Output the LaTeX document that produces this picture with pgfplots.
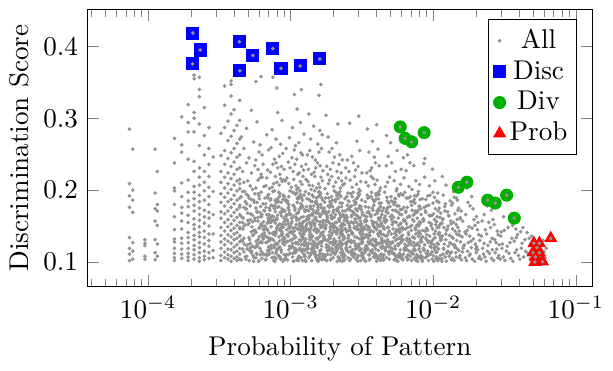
\documentclass[border=0pt]{standalone}
\usepackage{pgfplots}
\usepackage{pgfplotstable}
\pgfplotsset{compat=1.18}
\definecolor{divgreen}{RGB}{0,176,0}
\begin{document}
% u = probability x 1e5, y = discrimination score
\pgfplotstableread{
u y
7.4 .285
7.8 .257
7.4 .209
7.8 .200
7.4 .192
7.8 .186
7.4 .176
7.8 .169
7.4 .134
7.8 .127
7.4 .119
7.8 .115
7.4 .111
7.8 .104
7.4 .102
9.5 .131
9.5 .126
9.5 .123
9.5 .108
9.5 .104
11.2 .257
11.6 .226
11.2 .196
11.6 .180
11.2 .174
11.6 .171
11.2 .157
11.6 .151
11.2 .131
11.6 .125
11.2 .113
11.6 .108
11.2 .103
15.3 .272
15.3 .238
15.3 .203
15.3 .199
15.3 .180
15.3 .163
15.3 .145
15.3 .132
15.3 .128
15.3 .119
15.3 .112
15.3 .106
15.3 .102
17.2 .302
17.2 .263
17.2 .253
17.2 .210
17.2 .191
17.2 .176
17.2 .168
17.2 .157
17.2 .146
17.2 .133
17.2 .126
17.2 .118
17.2 .111
17.2 .105
19.1 .319
19.1 .294
19.1 .281
19.1 .243
19.1 .214
19.1 .197
19.1 .185
19.1 .177
19.1 .165
19.1 .155
19.1 .141
19.1 .134
19.1 .127
19.1 .119
19.1 .112
19.1 .107
19.1 .102
21.0 .360
21.0 .355
21.0 .308
21.0 .300
21.0 .281
21.0 .240
21.0 .226
21.0 .205
21.0 .197
21.0 .188
21.0 .179
21.0 .171
21.0 .160
21.0 .152
21.0 .146
21.0 .137
21.0 .131
21.0 .123
21.0 .117
21.0 .110
21.0 .104
22.9 .357
22.9 .340
22.9 .330
22.9 .292
22.9 .262
22.9 .231
22.9 .218
22.9 .207
22.9 .193
22.9 .184
22.9 .175
22.9 .166
22.9 .158
22.9 .149
22.9 .141
22.9 .135
22.9 .127
22.9 .120
22.9 .113
22.9 .106
22.9 .101
24.8 .315
24.8 .276
24.8 .249
24.8 .226
24.8 .211
24.8 .199
24.8 .186
24.8 .172
24.8 .163
24.8 .154
24.8 .143
24.8 .134
24.8 .125
24.8 .115
24.8 .108
24.8 .103
26.7 .287
26.7 .258
26.7 .236
26.7 .219
26.7 .204
26.7 .191
26.7 .180
26.7 .169
26.7 .161
26.7 .150
26.7 .139
26.7 .130
26.7 .122
26.7 .113
26.7 .105
28.6 .246
28.6 .198
28.6 .166
28.6 .139
28.6 .116
28.6 .106
32.4 .279
32.4 .248
32.4 .226
32.4 .211
32.4 .195
32.4 .183
32.4 .170
32.4 .161
32.4 .148
32.4 .137
32.4 .128
32.4 .119
32.4 .109
32.4 .102
34.4 .345
34.4 .318
34.4 .287
34.4 .255
34.4 .236
34.4 .218
34.4 .203
34.4 .190
34.4 .178
34.4 .167
34.4 .155
34.4 .143
34.4 .132
34.4 .124
34.4 .114
34.4 .106
36.3 .296
36.3 .269
36.3 .244
36.3 .224
36.3 .209
36.3 .196
36.3 .184
36.3 .171
36.3 .159
36.3 .149
36.3 .138
36.3 .129
36.3 .118
36.3 .110
36.3 .104
38.2 .352
38.2 .347
38.2 .331
38.2 .306
38.2 .275
38.2 .252
38.2 .233
38.2 .216
38.2 .201
38.2 .187
38.2 .176
38.2 .164
38.2 .153
38.2 .144
38.2 .135
38.2 .126
38.2 .117
38.2 .108
38.2 .101
40.1 .312
40.1 .283
40.1 .258
40.1 .239
40.1 .222
40.1 .207
40.1 .193
40.1 .181
40.1 .169
40.1 .158
40.1 .147
40.1 .139
40.1 .131
40.1 .121
40.1 .113
40.1 .105
42.0 .290
42.0 .265
42.0 .246
42.0 .229
42.0 .213
42.0 .199
42.0 .186
42.0 .173
42.0 .162
42.0 .151
42.0 .141
42.0 .133
42.0 .124
42.0 .115
42.0 .107
42.0 .102
43.9 .325
43.9 .297
43.9 .271
43.9 .249
43.9 .231
43.9 .215
43.9 .202
43.9 .189
43.9 .176
43.9 .166
43.9 .155
43.9 .146
43.9 .136
43.9 .128
43.9 .119
43.9 .111
43.9 .104
45 .103
58 .111
51 .117
63 .105
47 .114
55 .101
61 .119
49 .108
53 .113
65 .110
46 .118
57 .106
60 .102
52 .116
64 .112
48 .107
56 .120
62 .115
50 .124
59 .131
44 .137
54 .122
62 .128
47 .133
57 .121
65 .139
52 .126
45 .130
60 .135
49 .123
55 .138
63 .127
51 .134
58 .125
46 .129
64 .132
53 .142
61 .149
46 .155
57 .141
50 .158
64 .146
48 .152
55 .144
59 .157
44 .148
62 .153
52 .159
56 .143
47 .150
65 .145
51 .154
60 .147
54 .156
45 .163
58 .171
52 .178
63 .166
49 .174
56 .161
61 .169
47 .176
54 .165
65 .172
50 .168
59 .162
44 .179
57 .175
62 .164
48 .184
60 .192
53 .187
46 .198
64 .181
56 .195
51 .189
58 .183
45 .191
62 .197
55 .186
49 .194
57 .203
47 .211
63 .218
52 .206
59 .214
44 .209
54 .201
61 .217
50 .213
65 .205
46 .226
56 .234
62 .222
49 .238
59 .229
53 .224
64 .236
51 .245
60 .253
47 .258
57 .242
63 .249
55 .267
45 .274
61 .263
49 .286
58 .295
53 .311
57 .351
62 .358
67 .104
79 .112
88 .101
72 .118
84 .107
70 .115
90 .110
76 .102
82 .119
68 .109
86 .114
74 .106
80 .117
89 .103
71 .111
77 .120
85 .105
69 .116
83 .108
73 .123
87 .131
66 .136
81 .125
75 .139
89 .128
70 .133
84 .121
78 .137
67 .127
90 .134
72 .122
86 .138
76 .130
80 .124
68 .135
83 .129
74 .132
88 .126
79 .140
69 .144
82 .151
77 .158
87 .142
71 .155
85 .147
66 .150
79 .143
90 .156
73 .149
84 .153
68 .146
80 .159
75 .141
88 .152
70 .157
83 .145
78 .154
86 .148
72 .160
76 .163
89 .171
67 .176
81 .165
73 .179
85 .168
70 .162
87 .174
78 .170
68 .166
83 .177
74 .164
90 .172
80 .161
71 .175
86 .169
77 .178
82 .184
69 .192
88 .187
75 .198
79 .182
66 .189
84 .195
72 .186
90 .191
77 .199
86 .183
70 .194
81 .188
74 .204
87 .212
68 .217
83 .207
78 .219
71 .202
89 .214
76 .209
85 .216
67 .206
80 .211
72 .225
86 .233
79 .238
69 .228
84 .222
75 .236
90 .229
81 .231
77 .243
88 .251
70 .256
83 .247
73 .259
85 .264
68 .277
79 .271
74 .284
87 .297
81 .308
80 .342
75 .357
92 .105
108 .113
121 .102
97 .117
114 .108
101 .120
124 .111
95 .103
110 .116
118 .106
99 .112
105 .101
123 .118
93 .109
112 .104
116 .119
103 .107
120 .114
96 .110
107 .118
113 .102
98 .122
115 .131
94 .138
109 .126
122 .134
102 .121
117 .129
91 .133
106 .137
119 .124
100 .130
111 .127
125 .123
96 .136
104 .132
113 .125
93 .128
121 .139
108 .135
99 .121
116 .140
103 .126
106 .143
119 .151
95 .157
112 .146
101 .154
124 .141
97 .149
110 .158
117 .144
92 .152
104 .147
122 .155
100 .142
114 .159
108 .148
94 .145
120 .153
102 .156
115 .150
98 .141
111 .160
123 .146
93 .164
107 .172
118 .177
100 .166
113 .169
96 .175
123 .163
104 .179
110 .167
91 .171
116 .174
102 .161
120 .176
98 .168
109 .162
125 .173
105 .178
94 .165
111 .183
97 .191
121 .186
103 .197
115 .189
92 .185
108 .194
118 .181
99 .199
112 .188
124 .193
95 .182
106 .196
119 .190
101 .204
117 .212
94 .217
109 .206
122 .219
97 .209
113 .203
105 .215
120 .208
92 .213
110 .201
104 .226
119 .233
96 .239
112 .222
107 .236
123 .228
99 .231
115 .224
102 .245
118 .252
93 .258
110 .243
121 .249
106 .256
114 .266
98 .273
108 .262
124 .278
103 .287
117 .294
111 .313
106 .333
119 .340
127 .102
148 .111
163 .117
134 .106
156 .101
141 .114
169 .108
130 .119
152 .104
145 .112
160 .115
137 .109
166 .103
126 .116
150 .107
143 .120
158 .110
132 .113
168 .105
139 .118
154 .102
162 .111
129 .125
151 .133
165 .122
136 .138
147 .127
159 .135
131 .121
170 .130
142 .136
155 .124
128 .132
161 .128
138 .139
149 .123
167 .137
133 .126
153 .131
144 .122
157 .134
126 .129
164 .126
140 .134
146 .144
160 .152
128 .158
152 .141
139 .149
168 .155
133 .146
157 .143
143 .157
163 .148
130 .153
149 .159
136 .142
166 .150
155 .145
141 .154
127 .147
161 .156
147 .151
134 .160
153 .144
169 .158
131 .163
154 .171
145 .178
162 .165
137 .175
150 .162
167 .169
129 .177
158 .167
142 .173
135 .164
164 .176
148 .161
126 .170
156 .179
140 .166
170 .172
151 .168
138 .185
159 .192
127 .198
149 .183
165 .189
134 .195
153 .181
144 .191
168 .186
130 .188
157 .197
141 .184
162 .194
147 .199
152 .203
132 .212
163 .218
143 .206
128 .215
157 .209
139 .201
167 .213
148 .219
135 .207
160 .204
146 .225
161 .234
133 .229
154 .238
140 .222
168 .227
128 .236
150 .231
142 .246
158 .253
131 .249
164 .258
149 .242
136 .255
155 .264
138 .271
166 .277
145 .289
160 .283
134 .306
163 .347
158 .332
173 .104
205 .112
228 .101
186 .117
217 .107
194 .119
232 .110
179 .102
210 .115
199 .106
224 .113
176 .109
214 .118
190 .103
230 .116
182 .111
207 .120
221 .105
196 .114
174 .108
212 .101
187 .116
226 .119
178 .124
201 .132
225 .138
188 .127
216 .121
172 .135
208 .129
231 .125
193 .137
184 .122
219 .134
198 .128
176 .131
211 .139
227 .123
189 .133
204 .126
233 .136
181 .130
215 .124
195 .140
222 .129
185 .121
203 .143
177 .151
220 .157
191 .145
229 .149
183 .156
209 .141
197 .153
174 .147
218 .159
187 .142
232 .154
200 .148
179 .158
213 .144
192 .150
226 .146
206 .155
175 .152
223 .141
195 .160
211 .147
180 .164
214 .172
197 .177
227 .163
185 .170
206 .166
172 .175
220 .168
190 .179
231 .171
202 .162
177 .167
217 .176
193 .161
210 .173
183 .178
224 .165
199 .169
188 .184
221 .193
176 .189
208 .197
230 .182
196 .186
181 .195
215 .188
202 .199
225 .191
173 .183
212 .194
192 .181
200 .205
228 .213
184 .209
216 .217
174 .202
207 .211
194 .219
223 .203
187 .214
232 .207
211 .226
179 .233
198 .238
226 .224
190 .229
218 .236
182 .222
203 .246
186 .253
221 .249
195 .258
230 .242
209 .266
183 .274
214 .292
177 .304
237 .103
281 .111
312 .118
252 .106
296 .101
265 .115
318 .108
244 .119
287 .104
271 .112
305 .116
240 .109
259 .102
300 .120
276 .107
315 .113
248 .117
290 .105
268 .110
309 .102
255 .114
284 .118
235 .112
320 .106
243 .126
293 .134
261 .121
310 .138
278 .129
239 .133
302 .123
256 .137
285 .125
317 .131
249 .128
272 .139
297 .122
236 .136
264 .130
313 .127
282 .135
246 .124
306 .132
269 .140
289 .121
253 .133
319 .128
263 .144
301 .152
238 .158
279 .147
314 .143
251 .155
291 .149
270 .141
308 .157
242 .146
286 .159
258 .151
316 .148
275 .154
247 .142
298 .145
266 .156
311 .150
234 .153
283 .160
254 .144
245 .165
288 .173
267 .178
307 .162
241 .171
280 .167
260 .176
318 .169
294 .164
250 .179
273 .170
303 .175
237 .163
262 .172
311 .177
284 .166
257 .184
299 .192
274 .197
240 .188
315 .186
286 .181
264 .195
247 .191
306 .199
278 .185
293 .189
252 .196
270 .204
310 .212
244 .217
289 .208
261 .214
302 .201
238 .209
281 .219
256 .226
297 .233
276 .238
316 .224
243 .231
285 .228
268 .247
305 .255
250 .242
291 .268
259 .293
300 .303
325 .105
389 .112
427 .102
348 .118
405 .108
362 .115
436 .119
336 .101
397 .110
374 .117
418 .104
331 .113
381 .107
412 .116
356 .103
432 .111
343 .120
393 .106
368 .114
424 .109
329 .117
401 .101
352 .110
439 .105
338 .123
395 .131
360 .137
421 .126
327 .134
384 .122
409 .139
349 .128
434 .133
372 .124
340 .138
402 .127
365 .130
429 .121
333 .135
388 .129
415 .136
355 .125
378 .132
437 .128
322 .139
398 .124
346 .145
407 .152
371 .157
326 .148
425 .143
385 .155
358 .141
416 .159
339 .151
392 .147
433 .154
364 .144
411 .150
332 .156
380 .142
422 .158
351 .149
399 .146
376 .153
366 .164
419 .172
335 .177
391 .166
353 .170
428 .162
373 .175
406 .168
341 .163
383 .179
414 .174
359 .167
438 .171
328 .165
387 .185
344 .193
413 .188
369 .197
431 .182
357 .190
396 .195
334 .184
420 .199
377 .187
350 .206
403 .214
367 .219
426 .203
337 .211
390 .208
379 .216
361 .227
417 .234
342 .224
394 .238
370 .231
386 .246
354 .253
410 .257
375 .268
345 .285
400 .291
446 .103
528 .111
587 .117
470 .106
553 .102
495 .115
601 .109
458 .119
540 .104
512 .113
576 .107
451 .110
520 .118
565 .101
483 .114
594 .105
463 .116
547 .108
504 .120
582 .112
441 .107
533 .103
490 .111
475 .124
560 .132
448 .138
517 .127
597 .135
488 .121
544 .130
465 .136
583 .126
508 .139
455 .129
570 .123
530 .134
479 .131
599 .128
443 .122
552 .137
500 .125
578 .133
468 .127
537 .140
492 .143
571 .151
452 .157
523 .146
590 .154
477 .148
545 .142
461 .155
509 .159
562 .144
444 .150
535 .156
485 .141
598 .147
515 .152
472 .158
580 .145
459 .164
541 .172
498 .177
585 .166
467 .170
526 .162
557 .178
481 .168
603 .173
449 .175
513 .165
568 .169
506 .185
574 .192
456 .197
538 .188
487 .182
592 .195
473 .190
550 .199
519 .184
462 .205
531 .213
589 .208
494 .218
556 .202
478 .211
543 .226
469 .234
596 .229
511 .238
484 .247
558 .255
502 .266
470 .276
611 .104
712 .112
795 .118
647 .107
758 .102
680 .115
820 .109
625 .119
735 .105
698 .113
779 .101
618 .111
724 .117
805 .106
660 .103
749 .116
690 .108
812 .114
636 .120
767 .110
705 .102
655 .117
788 .107
631 .125
741 .133
672 .138
801 .122
615 .131
729 .127
786 .136
663 .123
754 .139
694 .129
824 .134
642 .121
718 .135
772 .126
608 .137
684 .132
762 .124
652 .130
809 .128
702 .144
776 .152
629 .158
747 .147
668 .141
816 .155
687 .149
610 .145
733 .157
793 .143
650 .153
716 .159
763 .150
640 .146
800 .156
677 .164
783 .172
621 .176
738 .167
706 .179
658 .162
770 .169
818 .174
643 .171
726 .165
796 .178
696 .184
764 .192
633 .197
810 .187
666 .189
744 .182
613 .193
786 .198
674 .205
755 .213
624 .217
802 .208
709 .201
645 .227
730 .234
686 .238
617 .245
660 .249
835 .103
960 .111
1090 .118
880 .106
1010 .101
915 .115
1120 .109
850 .119
985 .104
1045 .113
905 .108
1075 .102
862 .116
940 .110
1100 .105
1025 .117
893 .112
970 .120
842 .107
1060 .114
925 .102
870 .124
1000 .132
1110 .137
920 .127
1050 .121
845 .135
975 .129
1085 .125
900 .138
1030 .134
955 .122
1125 .130
832 .128
1015 .139
887 .133
1068 .126
945 .136
910 .144
1040 .152
855 .157
990 .146
1105 .141
935 .155
1070 .148
875 .143
1020 .159
965 .150
1130 .154
895 .147
1055 .156
950 .164
1080 .171
865 .176
1005 .167
930 .179
1115 .162
885 .169
1035 .174
980 .165
1060 .185
915 .192
995 .197
840 .188
1095 .183
940 .206
1025 .213
870 .218
985 .229
860 .237
872 .244
1150 .104
1320 .112
1480 .118
1210 .107
1400 .102
1265 .115
1540 .109
1180 .119
1360 .105
1440 .113
1235 .101
1510 .116
1290 .108
1170 .111
1420 .120
1340 .103
1250 .114
1525 .106
1195 .125
1380 .133
1500 .138
1275 .122
1460 .130
1160 .136
1310 .127
1430 .121
1225 .139
1550 .128
1350 .135
1145 .131
1410 .124
1300 .137
1240 .144
1450 .152
1330 .157
1185 .148
1520 .143
1390 .155
1270 .150
1470 .159
1155 .154
1365 .146
1285 .164
1490 .172
1205 .177
1420 .167
1345 .179
1545 .162
1260 .170
1315 .185
1175 .193
1455 .189
1385 .198
1230 .207
1160 .219
1580 .103
1820 .111
2050 .117
1680 .106
1950 .101
1740 .115
2110 .108
1620 .119
1880 .104
2000 .113
1710 .102
1990 .118
1790 .109
1600 .114
2080 .105
1850 .120
1650 .124
1910 .132
2090 .138
1760 .127
2020 .121
1590 .135
1840 .129
1970 .125
1700 .139
2120 .130
1800 .136
1630 .122
1730 .144
1960 .151
1610 .157
1870 .147
2060 .155
1670 .142
1930 .159
1780 .149
2040 .145
1690 .166
1900 .174
1570 .171
2010 .163
1810 .178
1750 .183
1860 .191
1720 .203
2160 .104
2480 .112
2790 .118
2300 .107
2650 .102
2400 .115
2880 .109
2220 .119
2560 .105
2720 .113
2350 .101
2600 .117
2840 .106
2250 .111
2270 .126
2590 .133
2850 .138
2420 .123
2700 .131
2180 .136
2510 .128
2900 .124
2370 .139
2760 .127
2320 .145
2680 .152
2200 .157
2530 .148
2810 .143
2450 .155
2620 .159
2280 .166
2560 .172
2390 .178
2240 .184
2950 .104
3400 .112
3850 .117
3100 .107
3620 .101
3250 .115
3950 .109
3030 .119
3500 .105
3750 .113
3180 .102
3050 .125
3560 .133
3900 .138
3300 .122
3700 .129
2980 .136
3450 .127
3820 .134
3150 .144
3600 .151
3350 .148
3000 .142
3800 .146
3120 .163
4050 .104
4600 .112
5300 .118
4300 .107
4950 .101
4450 .115
5150 .109
4150 .119
4800 .105
4200 .126
4700 .133
5400 .122
4400 .131
5050 .128
4900 .136
4100 .142
4550 .141
4250 .148
5550 .103
5800 .111
6100 .106
5650 .118
5950 .102
5700 .125
6000 .114
5600 .108
6200 .119
5900 .130
48.5 .104
60.5 .127
53.5 .149
65.5 .171
50.5 .192
57.5 .112
62.5 .138
46.5 .161
55.5 .183
59.5 .101
51.5 .131
64.5 .156
49.5 .118
56.5 .144
61.5 .177
47.5 .198
54.5 .109
63.5 .135
52.5 .167
58.5 .122
50.2 .152
60.2 .188
55.2 .106
65.2 .141
48.2 .174
57.2 .129
62.2 .163
53.2 .115
46.2 .146
59.2 .195
51.2 .102
64.2 .133
56.2 .158
49.2 .181
61.2 .110
54.2 .137
47.2 .125
63.2 .151
58.2 .169
52.2 .120
66.5 .103
78.5 .126
88.5 .148
71.5 .172
83.5 .191
74.5 .113
86.5 .137
69.5 .160
81.5 .184
76.5 .107
89.5 .131
68.5 .154
80.5 .176
73.5 .119
85.5 .143
70.5 .166
82.5 .197
77.5 .101
90.5 .124
67.5 .146
84.5 .169
72.5 .188
79.5 .115
87.5 .139
75.5 .158
66.8 .181
81.8 .109
71.8 .133
86.8 .152
76.8 .174
69.8 .121
83.8 .145
73.8 .163
88.8 .193
78.8 .105
68.8 .128
80.8 .150
74.8 .178
85.8 .117
70.8 .140
89.8 .161
77.8 .186
67.8 .111
82.8 .135
72.8 .155
87.8 .171
75.8 .123
79.8 .147
84.8 .104
71.2 .130
86.2 .164
76.2 .141
69.2 .189
81.2 .118
74.2 .157
91.5 .104
108.5 .127
121.5 .149
97.5 .172
114.5 .191
103.5 .112
118.5 .136
94.5 .159
111.5 .183
124.5 .108
100.5 .131
115.5 .154
96.5 .176
107.5 .119
122.5 .143
93.5 .166
110.5 .196
104.5 .101
119.5 .124
98.5 .147
113.5 .169
92.5 .187
106.5 .115
123.5 .138
101.5 .161
116.5 .106
95.5 .129
109.5 .152
120.5 .178
99.5 .121
112.5 .145
105.5 .164
117.5 .194
93.2 .110
108.2 .134
122.2 .156
97.2 .180
114.2 .117
102.2 .140
118.2 .162
95.2 .185
110.2 .103
124.2 .126
100.2 .150
115.2 .173
106.2 .113
120.2 .137
92.2 .158
111.2 .189
103.2 .122
117.2 .146
98.2 .167
113.2 .107
121.2 .132
96.2 .153
107.2 .175
119.2 .116
101.2 .142
116.2 .199
94.2 .128
126.5 .103
145.5 .126
163.5 .148
133.5 .171
154.5 .190
139.5 .112
168.5 .137
129.5 .159
150.5 .182
159.5 .107
136.5 .131
147.5 .153
165.5 .175
131.5 .118
156.5 .143
142.5 .165
161.5 .196
127.5 .101
152.5 .124
138.5 .146
169.5 .168
134.5 .187
148.5 .114
162.5 .139
130.5 .160
157.5 .105
143.5 .129
166.5 .151
137.5 .178
153.5 .120
128.5 .144
160.5 .163
141.5 .193
149.5 .109
170.5 .133
135.5 .155
155.5 .173
144.5 .116
164.5 .140
132.5 .161
151.5 .185
140.5 .102
158.5 .127
128.2 .150
146.2 .170
167.2 .111
136.2 .135
153.2 .157
162.2 .180
131.2 .122
149.2 .147
141.2 .167
158.2 .198
126.2 .108
164.2 .128
138.2 .152
155.2 .176
145.2 .119
169.2 .142
133.2 .164
151.2 .189
160.2 .104
139.2 .125
147.2 .145
129.2 .172
172.5 .106
198.5 .124
223.5 .150
183.5 .169
211.5 .192
190.5 .110
230.5 .139
177.5 .157
205.5 .184
218.5 .105
186.5 .133
201.5 .151
227.5 .177
180.5 .116
214.5 .145
194.5 .163
221.5 .198
174.5 .103
208.5 .122
189.5 .148
232.5 .166
184.5 .189
203.5 .112
225.5 .141
178.5 .158
215.5 .107
196.5 .127
228.5 .153
187.5 .176
209.5 .118
175.5 .146
219.5 .161
193.5 .191
204.5 .111
233.5 .131
182.5 .157
212.5 .171
197.5 .114
224.5 .142
179.5 .159
206.5 .187
191.5 .104
216.5 .125
175.2 .148
200.2 .172
229.2 .109
185.2 .137
210.2 .155
222.2 .182
178.2 .120
203.2 .149
192.2 .165
217.2 .196
173.2 .110
226.2 .126
188.2 .154
212.2 .174
198.2 .117
231.2 .144
181.2 .162
207.2 .187
220.2 .102
190.2 .127
201.2 .143
176.2 .170
236 .102
274 .128
309 .146
251 .173
289 .188
262 .114
316 .135
242 .161
281 .180
298 .109
257 .129
277 .155
312 .173
247 .116
292 .145
267 .163
304 .194
239 .103
285 .122
260 .148
319 .166
253 .185
279 .112
307 .141
244 .158
295 .107
265 .127
314 .153
258 .176
288 .118
241 .146
301 .161
270 .191
283 .111
318 .131
249 .157
293 .171
272 .114
310 .142
246 .159
286 .183
263 .104
300 .125
238 .152
276 .168
313 .109
254 .137
290 .155
305 .178
245 .120
280 .149
268 .165
297 .196
235 .106
317 .126
259 .154
287 .174
271 .117
320 .144
250 .162
324 .106
375 .124
423 .150
344 .169
398 .192
358 .110
432 .139
331 .157
386 .184
410 .105
351 .133
379 .151
427 .177
338 .116
401 .145
365 .163
417 .194
327 .103
391 .122
355 .148
436 .166
347 .189
382 .112
420 .141
334 .158
405 .107
362 .127
429 .153
352 .176
394 .118
329 .146
413 .161
368 .191
388 .111
434 .131
341 .157
403 .171
372 .114
425 .142
336 .159
396 .187
360 .104
411 .125
323 .148
377 .172
430 .109
349 .137
399 .155
418 .182
333 .120
384 .149
366 .165
407 .196
321 .110
438 .126
445 .105
515 .128
580 .146
472 .173
545 .188
490 .114
595 .135
455 .161
530 .180
562 .109
482 .129
520 .155
588 .173
462 .116
552 .145
500 .163
572 .194
450 .103
538 .122
485 .148
600 .166
475 .185
525 .112
578 .141
458 .158
558 .107
495 .127
592 .153
480 .176
542 .118
452 .146
568 .161
505 .191
534 .111
598 .131
466 .157
548 .171
510 .114
585 .142
460 .159
540 .183
492 .104
565 .125
447 .148
518 .172
590 .109
477 .137
550 .155
574 .178
465 .120
606 .106
700 .124
790 .150
642 .169
742 .192
665 .110
812 .139
620 .157
722 .184
766 .105
654 .133
706 .151
800 .177
630 .116
752 .145
682 .163
780 .194
612 .103
734 .122
661 .148
822 .166
648 .189
715 .112
785 .141
626 .158
760 .107
675 .127
806 .153
657 .176
738 .118
615 .146
772 .161
692 .191
728 .111
818 .131
638 .157
746 .171
696 .114
795 .142
622 .159
736 .187
668 .104
776 .125
608 .148
710 .172
830 .104
965 .126
1090 .148
880 .171
1020 .190
910 .112
1115 .137
848 .159
995 .182
1055 .107
895 .131
970 .153
1100 .175
862 .118
1035 .143
935 .165
1075 .196
838 .101
1010 .124
905 .146
1128 .168
888 .187
980 .114
1080 .139
855 .160
1045 .105
925 .129
1108 .151
900 .178
1015 .120
842 .144
1065 .163
950 .193
1000 .109
1122 .133
1140 .104
1320 .126
1490 .148
1205 .171
1400 .190
1245 .112
1535 .137
1165 .159
1365 .182
1445 .107
1225 .131
1330 .153
1510 .175
1185 .118
1420 .143
1280 .165
1475 .186
1150 .101
1380 .124
1255 .146
1548 .160
1215 .181
1340 .114
1460 .139
1170 .160
}\alldata
\begin{tikzpicture}
\begin{axis}[
  xmode=log,
  scale only axis,
  width=186pt, height=102pt,
  xmin=3.76e-5, xmax=0.13,
  ymin=0.066, ymax=0.451,
  ytick={0.1,0.2,0.3,0.4},
  xlabel={Probability of Pattern},
  ylabel={Discrimination Score},
  ylabel style={xshift=0pt, yshift=-1.5pt},
  legend image code/.code={\draw[#1] plot coordinates {(0cm,0cm)};},
  legend style={at={(0.971,0.967)}, anchor=north east,
    inner xsep=2pt, inner ysep=2pt,
    nodes={inner sep=1.5pt, text depth=0.15em}},
]
\addplot[only marks, mark=*, mark size=0.45pt, color=gray!85]
  table[x expr=\thisrow{u}*1e-5, y=y] {\alldata};
\addlegendentry{All}
\addplot[only marks, mark=square*, mark size=2.2pt, color=blue] coordinates {
(2.06e-4,0.4186) (2.32e-4,0.395) (2.05e-4,0.3756) (4.37e-4,0.4065)
(5.43e-4,0.3875) (4.40e-4,0.366) (7.50e-4,0.397) (8.55e-4,0.3694)
(1.165e-3,0.3728) (1.60e-3,0.3825)};
\addlegendentry{Disc}
\addplot[only marks, mark=*, mark size=2.2pt, color=divgreen] coordinates {
(5.87e-3,0.288) (6.35e-3,0.272) (7.06e-3,0.2672) (8.63e-3,0.280)
(1.50e-2,0.204) (1.72e-2,0.211) (2.41e-2,0.186) (2.72e-2,0.182)
(3.27e-2,0.193) (3.70e-2,0.161)};
\addlegendentry{Div}
\addplot[only marks, mark=triangle*, mark size=2.4pt, color=red] coordinates {
(6.67e-2,0.133) (5.08e-2,0.126) (5.55e-2,0.126) (5.35e-2,0.120)
(5.00e-2,0.113) (5.55e-2,0.113) (5.21e-2,0.107) (5.16e-2,0.100)
(5.85e-2,0.1005)};
\addlegendentry{Prob}
\addplot[only marks, mark=*, mark size=0.45pt, color=gray!85, forget plot] coordinates {
(2.06e-4,0.4186) (2.32e-4,0.395) (2.05e-4,0.3756) (4.37e-4,0.4065)
(5.43e-4,0.3875) (4.40e-4,0.366) (7.50e-4,0.397) (8.55e-4,0.3694)
(1.165e-3,0.3728) (1.60e-3,0.3825)
(5.87e-3,0.288) (6.35e-3,0.272) (7.06e-3,0.2672) (8.63e-3,0.280)
(1.50e-2,0.204) (1.72e-2,0.211) (2.41e-2,0.186) (2.72e-2,0.182)
(3.27e-2,0.193) (3.70e-2,0.161)
(6.67e-2,0.133) (5.08e-2,0.126) (5.55e-2,0.126) (5.35e-2,0.120)
(5.00e-2,0.113) (5.55e-2,0.113) (5.21e-2,0.107) (5.16e-2,0.100)
(5.85e-2,0.1005)};
\end{axis}
\path (current axis.north) ++(0,3.6pt);
\end{tikzpicture}
\end{document}
